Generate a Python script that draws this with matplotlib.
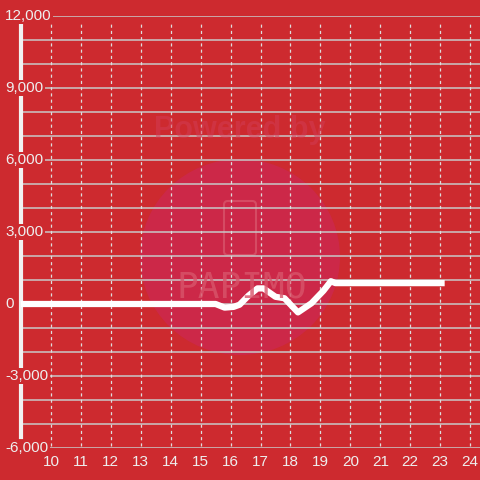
import matplotlib
matplotlib.use("Agg")
import matplotlib.pyplot as plt
from matplotlib.patches import Ellipse, FancyBboxPatch
from matplotlib.transforms import blended_transform_factory

plt.rcParams['font.family'] = ['Liberation Sans', 'DejaVu Sans']

# data
x_vals = [9.0, 15.5, 15.8, 16.1, 16.3, 16.6, 16.9, 17.1, 17.5, 17.8,
          18.25, 18.7, 19.1, 19.35, 19.5, 23.15]
y_vals = [0, 0, -150, -120, -30, 350, 650, 650, 300, 240,
          -350, 30, 550, 950, 870, 870]

x_ticks = list(range(10, 25))
y_label_ticks = [12000, 9000, 6000, 3000, 0, -3000, -6000]
y_grid_ticks = list(range(-6000, 12001, 1000))

BG = '#cd2a2f'
TXT = '#eeeeee'

fig = plt.figure(figsize=(4.8, 4.8), dpi=100, facecolor=BG)
ax = fig.add_axes([21 / 480, 32 / 480, 459 / 480, 432 / 480])
ax.set_facecolor('none')

# watermark
ax.add_patch(Ellipse((240 / 480, 1 - 257 / 480), 200 / 480, 196 / 480,
                     transform=fig.transFigure, facecolor='#cc2848',
                     edgecolor='none', zorder=0.1, clip_on=False))
ax.add_patch(FancyBboxPatch((224 / 480, 1 - 255 / 480), 32 / 480, 54 / 480,
                            boxstyle='round,pad=0,rounding_size=0.008',
                            transform=fig.transFigure, facecolor='none',
                            edgecolor='#d8556a', linewidth=1.5, alpha=0.8,
                            zorder=0.2, clip_on=False))
fig.text(240 / 480, 1 - 130 / 480, 'Powered by', ha='center', va='center',
         fontsize=22, fontweight='bold', color='#d23c55', alpha=0.5)
fig.text(242 / 480, 1 - 287 / 480, 'PAPIMO', ha='center', va='center',
         fontsize=26, color='#d8556a', alpha=0.8, family='DejaVu Sans Mono')

ax.set_xlim(9.0, 24.33)
ax.set_ylim(-6000, 12000)

# grid
ax.set_yticks(y_grid_ticks)
ax.yaxis.grid(True, color='#c8c8c8', linewidth=1.1, zorder=0.5)
ax.set_axisbelow(True)
ax.tick_params(axis='y', length=0, labelleft=False)
ax.vlines(x_ticks, -5900, 11800, colors='#dddddd', linewidth=0.9,
          linestyles=(0, (2.5, 2.5)), zorder=0.6)

ax.set_xticks(x_ticks)
ax.set_xticklabels([str(v) for v in x_ticks])
ax.tick_params(axis='x', length=0, pad=5, labelsize=11, labelcolor=TXT)

for s in ['top', 'right', 'bottom']:
    ax.spines[s].set_visible(False)
ax.spines['left'].set_color('#f2f2f2')
ax.spines['left'].set_linewidth(3)
ax.spines['left'].set_bounds(-5550, 11650)
ax.spines['left'].set_zorder(3)

# series
ax.plot(x_vals, y_vals, color='white', linewidth=4.5,
        solid_capstyle='butt', solid_joinstyle='round', zorder=4, clip_on=False)

# y labels with background boxes over the axis line
trans = blended_transform_factory(fig.transFigure, ax.transData)
for v in y_label_ticks:
    ax.text(5 / 480, v, f'{v:,}', transform=trans, ha='left', va='center',
            fontsize=11, color=TXT, zorder=6, clip_on=False,
            bbox=dict(facecolor=BG, edgecolor='none', pad=1.0))

fig.savefig('out.png', dpi=100, facecolor=BG)
